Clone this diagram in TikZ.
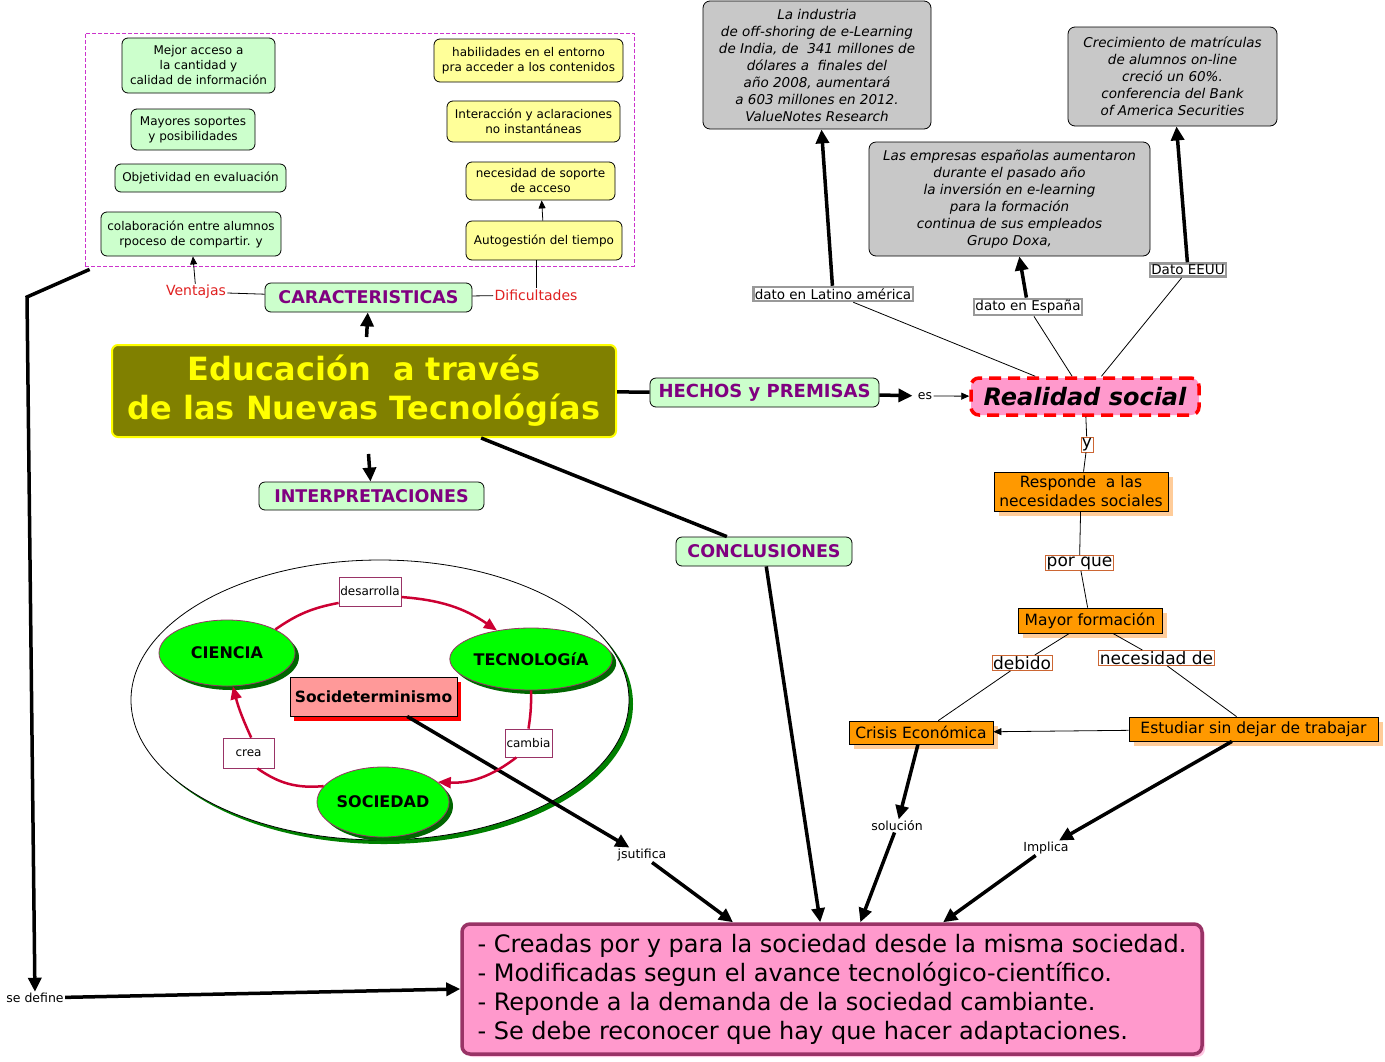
\documentclass[tikz,border=0pt]{standalone}
\usepackage{fontspec}
\setmainfont{DejaVu Sans}
\usetikzlibrary{arrows.meta,shapes.geometric,shadows}

\definecolor{verdeclaro}{HTML}{CCFFCC}
\definecolor{amarillo}{HTML}{FFFF99}
\definecolor{morado}{HTML}{800080}
\definecolor{oliva}{HTML}{808000}
\definecolor{amarillotitulo}{HTML}{FFFF00}
\definecolor{grisdato}{HTML}{C8C8C8}
\definecolor{rosa}{HTML}{FF99CC}
\definecolor{naranja}{HTML}{FF9900}
\definecolor{naranjasombra}{HTML}{FFCC99}
\definecolor{naranjaborde}{HTML}{CC6633}
\definecolor{lima}{HTML}{00FF00}
\definecolor{verdeoscuro}{HTML}{006600}
\definecolor{verdemarco}{HTML}{008000}
\definecolor{salmon}{HTML}{FF9999}
\definecolor{granate}{HTML}{CC0033}
\definecolor{vino}{HTML}{993366}
\definecolor{rosasombra}{HTML}{FFC6E2}
\definecolor{lila}{HTML}{CC33CC}
\definecolor{rojotexto}{HTML}{E02020}

\begin{document}
\begin{tikzpicture}[x=1pt, y=-1pt, thick,
  ventaja/.style={draw, rounded corners=6pt, fill=verdeclaro, align=center, inner sep=1pt, font=\fontsize{12}{15}\selectfont},
  dificultad/.style={ventaja, fill=amarillo},
  rama/.style={draw, rounded corners=6pt, fill=verdeclaro, inner sep=1pt, text=morado, font=\fontsize{17.5}{20}\selectfont\bfseries},
  lado/.style={text=rojotexto, inner sep=1pt, font=\fontsize{14}{16}\selectfont},
  dato/.style={draw, rounded corners=7pt, fill=grisdato, align=center, inner sep=1pt, font=\fontsize{13.5}{17}\selectfont\itshape},
  etiqueta/.style={draw=gray!80, line width=2.5pt, fill=white, inner sep=1.5pt, font=\fontsize{13.5}{15}\selectfont},
  frase/.style={draw=naranjaborde, line width=0.8pt, fill=white, inner sep=1pt, font=\fontsize{17}{18}\selectfont},
  caja/.style={draw, fill=naranja, align=center, inner sep=1pt, font=\fontsize{15.5}{19}\selectfont,
    drop shadow={shadow xshift=5pt, shadow yshift=-5pt, fill=naranjasombra, opacity=1}},
  esfera/.style={ellipse, draw=vino, fill=lima, inner sep=0pt, font=\fontsize{16}{18}\selectfont\bfseries,
    drop shadow={shadow xshift=4pt, shadow yshift=-4pt, fill=verdeoscuro, opacity=1}},
  verbo/.style={draw=vino, fill=white, inner sep=1pt, font=\fontsize{12}{14}\selectfont},
  suelto/.style={inner sep=1pt, font=\fontsize{12.5}{14}\selectfont},
  gruesa/.style={line width=3.5pt, -{Triangle[length=14pt,width=13pt]}},
  fina/.style={line width=0.8pt},
  punta/.style={line width=0.8pt, -{Triangle[length=8pt,width=7pt]}},
  curva/.style={granate, line width=2.5pt, -{Triangle[length=13pt,width=11pt]}}]

  \fill[white] (0,0) rectangle (1385,1061);
  \useasboundingbox (0,0) rectangle (1385,1061);

  \fill[verdemarco] (384,704) ellipse [x radius=249, y radius=140];
  \draw[fill=white, line width=0.8pt] (380,700) ellipse [x radius=249, y radius=140];

  \node[draw=lila, line width=0.8pt, dash pattern=on 4pt off 2pt, minimum width=549, minimum height=233] (marco) at (359.5,149.5) {};
  \node[ventaja, minimum width=153, minimum height=55] (mejor) at (198.5,65.5) {Mejor acceso a\\la cantidad y\\calidad de información};
  \node[ventaja, minimum width=124, minimum height=41] (soportes) at (193,129.5) {Mayores soportes\\y posibilidades};
  \node[ventaja, minimum width=171, minimum height=28] (objetividad) at (200.5,178) {Objetividad en evaluación};
  \node[ventaja, minimum width=180, minimum height=44] (colaboracion) at (191,234) {colaboración entre alumnos\\rpoceso de compartir. y};
  \node[dificultad, minimum width=189, minimum height=43] (habilidades) at (528.5,60.5) {habilidades en el entorno\\pra acceder a los contenidos};
  \node[dificultad, minimum width=173, minimum height=41] (interaccion) at (533.5,121.5) {Interacción y aclaraciones\\no instantáneas};
  \node[dificultad, minimum width=149, minimum height=38] (soporte) at (540.5,181) {necesidad de soporte\\de acceso};
  \node[dificultad, minimum width=156, minimum height=39] (autogestion) at (544,240.5) {Autogestión del tiempo};

  \node[rama, minimum width=207, minimum height=29] (caract) at (368.5,297.5) {CARACTERISTICAS};
  \node[lado] (ventajas) at (196,292) {Ventajas};
  \node[lado] (dificultades) at (536,295) {Dificultades};

  \node[draw=amarillotitulo, line width=2pt, rounded corners=6pt, fill=oliva, text=amarillotitulo, align=center,
    font=\fontsize{32}{39}\selectfont\bfseries, minimum width=504, minimum height=92] (titulo) at (364,391) {Educación\ \ a través\\de las Nuevas Tecnológías};
  \node[rama, minimum width=225, minimum height=28] (interp) at (371.5,496) {INTERPRETACIONES};
  \node[rama, minimum width=229, minimum height=29, font=\fontsize{18}{20}\selectfont\bfseries] (hechos) at (764.5,392.5) {HECHOS y PREMISAS};
  \node[rama, minimum width=176, minimum height=29] (concl) at (764,551.5) {CONCLUSIONES};
  \node[suelto] (es) at (925,396) {es};
  \node[draw=red, line width=3.5pt, dash pattern=on 12pt off 7pt, rounded corners=8pt, fill=rosa,
    font=\fontsize{24}{28}\selectfont\bfseries\itshape, minimum width=228, minimum height=37] (realidad) at (1085,396.5) {Realidad social};

  \node[dato, minimum width=228, minimum height=128] (india) at (817,65) {La industria\\de off-shoring de e-Learning\\de India, de\ \ 341 millones de\\dólares a\ \ finales del\\año 2008, aumentará\\a 603 millones en 2012.\\ValueNotes Research};
  \node[dato, minimum width=281, minimum height=114] (empresas) at (1009.5,199) {Las empresas españolas aumentaron\\durante el pasado año\\la inversión en e-learning\\para la formación\\continua de sus empleados\\Grupo Doxa,};
  \node[dato, minimum width=209, minimum height=99] (crecimiento) at (1172.5,76.5) {Crecimiento de matrículas\\de alumnos on-line\\creció un 60\%.\\conferencia del Bank\\of America Securities};
  \node[etiqueta] (latam) at (833,294) {dato en Latino américa};
  \node[etiqueta] (espana) at (1028,307) {dato en España};
  \node[etiqueta] (eeuu) at (1188,270) {Dato EEUU};

  \node[frase] (y) at (1087,444.5) {y};
  \node[caja, minimum width=174, minimum height=39] (responde) at (1081,491.5) {Responde\ \ a las\\necesidades sociales};
  \node[frase] (porque) at (1079.5,563) {por que};
  \node[caja, minimum width=144, minimum height=25] (mayor) at (1090,620.5) {Mayor formación};
  \node[frase] (debido) at (1022,663) {debido};
  \node[frase] (necesidad) at (1156.5,658) {necesidad de};
  \node[caja, minimum width=144, minimum height=23] (crisis) at (921,732.5) {Crisis Económica};
  \node[caja, minimum width=249, minimum height=24] (estudiar) at (1253.5,729) {Estudiar sin dejar de trabajar};
  \node[suelto] (solucion) at (897,826) {solución};
  \node[suelto] (implica) at (1046,848) {Implica};

  \node[esfera, minimum width=136, minimum height=66] (ciencia) at (227,653) {CIENCIA};
  \node[esfera, minimum width=142, minimum height=62] (tecno) at (531,659) {TECNOLOGíA};
  \node[esfera, minimum width=132, minimum height=70] (sociedad) at (383,802) {SOCIEDAD};
  \node[draw, fill=salmon, inner sep=1pt, font=\fontsize{15.5}{18}\selectfont\bfseries, minimum width=167, minimum height=39,
    drop shadow={shadow xshift=4pt, shadow yshift=-5pt, fill=red, opacity=1}] (socid) at (373.5,696.5) {Socideterminismo};
  \node[verbo, minimum width=62, minimum height=29] (desarrolla) at (370,591.5) {desarrolla};
  \node[verbo, minimum width=51, minimum height=30] (crea) at (248.5,753) {crea};
  \node[verbo, minimum width=47, minimum height=28] (cambia) at (528.5,743) {cambia};
  \node[suelto] (jsutifica) at (642,855) {jsutifica};

  \node[draw=vino, line width=3.5pt, rounded corners=8pt, fill=rosa, align=left, inner sep=2pt,
    font=\fontsize{24}{29}\selectfont, minimum width=740, minimum height=130,
    drop shadow={shadow xshift=3pt, shadow yshift=-3pt, fill=rosasombra, opacity=1}] (resumen) at (832,989)
    {- Creadas por y para la sociedad desde la misma sociedad.\\- Modificadas segun el avance tecnológico-científico.\\- Reponde a la demanda de la sociedad cambiante.\\- Se debe reconocer que hay que hacer adaptaciones.};
  \node[suelto] (sedefine) at (35,998) {se define};
  \coordinate (quiebre) at (27,297);

  \path (titulo) edge[gruesa, shorten <=7pt] (caract)
                 edge[gruesa, shorten <=16pt] (interp)
                 edge[gruesa, -] (hechos)
                 edge[gruesa, -] (concl)
        (caract) edge[fina] (ventajas)
                 edge[fina] (dificultades)
        (ventajas) edge[punta] (colaboracion)
        (dificultades.north) edge[fina] (dificultades.north |- autogestion.south)
        (autogestion) edge[punta] (soporte)
        (hechos) edge[gruesa, shorten >=4pt] (es)
        (es) edge[punta] (realidad)
        (realidad) edge[fina] (latam)
                   edge[fina] (espana)
                   edge[fina] (eeuu)
                   edge[fina] (y)
        (latam) edge[gruesa] (india)
        (espana) edge[gruesa] (empresas)
        (eeuu) edge[gruesa] (crecimiento)
        (y) edge[fina] (responde)
        (responde) edge[fina] (porque)
        (porque) edge[fina] (mayor)
        (mayor) edge[fina] (debido)
                edge[fina] (necesidad)
        (debido) edge[fina] (crisis)
        (necesidad) edge[fina] (estudiar)
        (estudiar) edge[punta] (crisis)
                   edge[gruesa] (implica)
        (crisis) edge[gruesa] (solucion)
        (solucion) edge[gruesa] (resumen.67)
        (implica) edge[gruesa] (resumen.31)
        (concl) edge[gruesa] (resumen.100)
        (socid) edge[gruesa] (jsutifica)
        (jsutifica) edge[gruesa] (resumen.146)
        (sedefine) edge[gruesa] (resumen.west);

  \path (ciencia.north east) edge[curva, -, bend left=12] (desarrolla.200)
        (desarrolla.-10) edge[curva, bend left=15] (tecno.140)
        (tecno.south) edge[curva, -, bend left=5] (cambia.north)
        (cambia.230) edge[curva, bend left=20] (sociedad.20)
        (sociedad.165) edge[curva, -, bend left=20] (crea.-60)
        (crea.80) edge[curva, bend left=5] (ciencia.-80);

  \draw[gruesa] ([xshift=5pt, yshift=-3pt]marco.south west) -- (quiebre) -- (sedefine);

\end{tikzpicture}
\end{document}
